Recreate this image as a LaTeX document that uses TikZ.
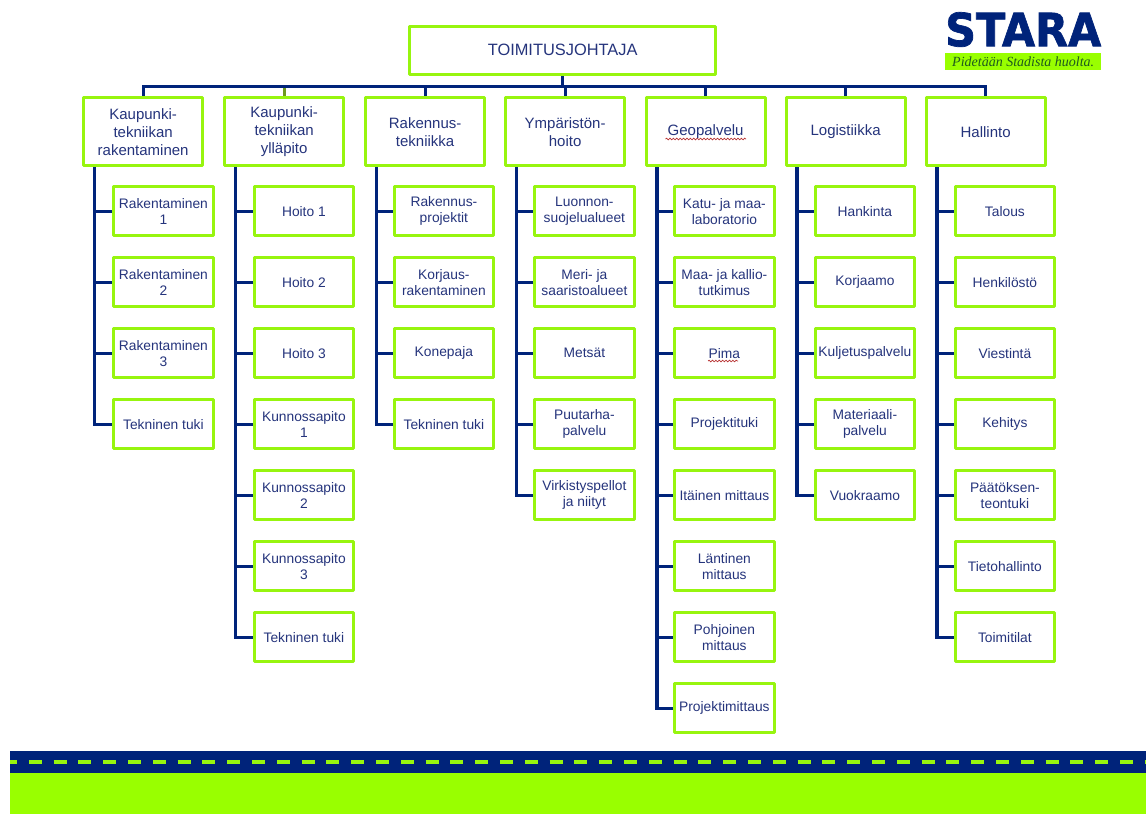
\documentclass[tikz,border=0pt]{standalone}
\usepackage{fontspec}
\usepackage{graphicx}
\setmainfont{Liberation Sans}
\newfontfamily\logofont{DejaVu Sans}[BoldFeatures={FakeBold=1.5}]
\newfontfamily\tagfont{Liberation Serif}
\usetikzlibrary{decorations.pathmorphing,backgrounds}
\definecolor{navy}{HTML}{00237A}
\definecolor{txt}{HTML}{25347C}
\definecolor{lime}{HTML}{99FF00}
\definecolor{edge}{HTML}{97F50F}
\definecolor{tagtext}{HTML}{1E5A1E}
\definecolor{oliveink}{HTML}{6E9A1E}
\tikzset{
 x=1pt,y=-1pt,
 boxbase/.style={draw=edge,line width=3.3pt,fill=white,align=center,text=txt,inner sep=0pt,anchor=north west,line join=round},
 topbox/.style={boxbase,minimum width=306pt,minimum height=48pt,font=\fontsize{16.4}{19}\selectfont},
 headbox/.style={boxbase,minimum width=119pt,minimum height=68pt,font=\fontsize{15}{18}\selectfont},
 subbox/.style={boxbase,minimum width=99.5pt,minimum height=49pt,font=\fontsize{13.8}{16}\selectfont},
 link/.style={draw=navy,line width=3.3pt},
 squiggle/.style={draw=red!65!black!80,line width=.7pt,decorate,decoration={snake,amplitude=.8pt,segment length=3.4pt}}
}
\newcommand{\subnode}[4]{% name, col left, row, text
  \node[subbox] (#1) at (#2,{185+71*(#3-1)}) {#4};}
\begin{document}
\begin{tikzpicture}
\useasboundingbox (0,0) rectangle (1146,814);
\begin{pgfonlayer}{background}
\fill[white] (0,0) rectangle (1146,814);
\end{pgfonlayer}
% footer band
\fill[navy] (10,751) rectangle (1146,773);
\fill[lime] (10,773) rectangle (1146,814);
\draw[edge,line width=3.6pt,dash pattern=on 13pt off 11.8pt,dash phase=6pt] (10,762) -- (1146,762);
% logo
\node[anchor=north west,inner sep=0pt,text=navy] (logo) at (945,12) {\resizebox{156pt}{34pt}{\logofont\bfseries STARA}};
\node[anchor=north west,fill=lime,minimum width=156pt,minimum height=17pt,inner sep=0pt,text=tagtext,font=\tagfont\itshape\fontsize{14}{15}\selectfont] (tag) at (945,53) {Pidetään Stadista huolta.};
% top
\node[topbox] (top) at (408,24.5) {TOIMITUSJOHTAJA};
% heads
\node[headbox] (h1) at (82,96) {Kaupunki-\\tekniikan\\rakentaminen};
\node[headbox] (h2) at (223,96) {Kaupunki-\\tekniikan\\ylläpito};
\node[headbox] (h3) at (364,96) {Rakennus-\\tekniikka};
\node[headbox] (h4) at (504,96) {Ympäristön-\\hoito};
\node[headbox] (h5) at (644.5,96) {Geopalvelu};
\node[headbox] (h6) at (784.5,96) {Logistiikka};
\node[headbox] (h7) at (924.5,96) {Hallinto};
% children
\subnode{a1}{112}{1}{Rakentaminen\\1}
\subnode{a2}{112}{2}{Rakentaminen\\2}
\subnode{a3}{112}{3}{Rakentaminen\\3}
\subnode{a4}{112}{4}{Tekninen tuki}
\subnode{b1}{252.5}{1}{Hoito 1}
\subnode{b2}{252.5}{2}{Hoito 2}
\subnode{b3}{252.5}{3}{Hoito 3}
\subnode{b4}{252.5}{4}{Kunnossapito\\1}
\subnode{b5}{252.5}{5}{Kunnossapito\\2}
\subnode{b6}{252.5}{6}{Kunnossapito\\3}
\subnode{b7}{252.5}{7}{Tekninen tuki}
\subnode{c1}{392.5}{1}{Rakennus-\\projektit}
\subnode{c2}{392.5}{2}{Korjaus-\\rakentaminen}
\subnode{c3}{392.5}{3}{Konepaja}
\subnode{c4}{392.5}{4}{Tekninen tuki}
\subnode{d1}{533}{1}{Luonnon-\\suojelualueet}
\subnode{d2}{533}{2}{Meri- ja\\saaristoalueet}
\subnode{d3}{533}{3}{Metsät}
\subnode{d4}{533}{4}{Puutarha-\\palvelu}
\subnode{d5}{533}{5}{Virkistyspellot\\ja niityt}
\subnode{e1}{673}{1}{Katu- ja maa-\\laboratorio}
\subnode{e2}{673}{2}{Maa- ja kallio-\\tutkimus}
\subnode{e3}{673}{3}{Pima}
\subnode{e4}{673}{4}{Projektituki}
\subnode{e5}{673}{5}{Itäinen mittaus}
\subnode{e6}{673}{6}{Läntinen\\mittaus}
\subnode{e7}{673}{7}{Pohjoinen\\mittaus}
\subnode{e8}{673}{8}{Projektimittaus}
\subnode{f1}{813.5}{1}{Hankinta}
\subnode{f2}{813.5}{2}{Korjaamo}
\subnode{f3}{813.5}{3}{Kuljetuspalvelu}
\subnode{f4}{813.5}{4}{Materiaali-\\palvelu}
\subnode{f5}{813.5}{5}{Vuokraamo}
\subnode{g1}{953.5}{1}{Talous}
\subnode{g2}{953.5}{2}{Henkilöstö}
\subnode{g3}{953.5}{3}{Viestintä}
\subnode{g4}{953.5}{4}{Kehitys}
\subnode{g5}{953.5}{5}{Päätöksen-\\teontuki}
\subnode{g6}{953.5}{6}{Tietohallinto}
\subnode{g7}{953.5}{7}{Toimitilat}
% connectors
\begin{pgfonlayer}{background}
\path (top.south) ++(0,11) coordinate (bus);
\foreach \h in {h1,h2,h3,h4,h5,h6,h7}{
  \draw[link,line join=miter] (bus) -| (\h.north);
}
\draw[link,draw=oliveink] (bus -| h2.north) ++(0,1.6) -- (h2.north);
\draw[link] (top.south) -- (bus);
\foreach \h/\list in {h1/{a1,a2,a3,a4},h2/{b1,b2,b3,b4,b5,b6,b7},h3/{c1,c2,c3,c4},h4/{d1,d2,d3,d4,d5},h5/{e1,e2,e3,e4,e5,e6,e7,e8},h6/{f1,f2,f3,f4,f5},h7/{g1,g2,g3,g4,g5,g6,g7}}{
  \coordinate (sp) at ([xshift=12.5pt]\h.south west);
  \foreach \c in \list {
    \draw[link] (sp) |- (\c.west);
  }
}
\end{pgfonlayer}
% spell-check squiggles
\draw[squiggle] (665.5,139) -- (746,139);
\draw[squiggle] (708,361) -- (738,361);
\end{tikzpicture}
\end{document}
